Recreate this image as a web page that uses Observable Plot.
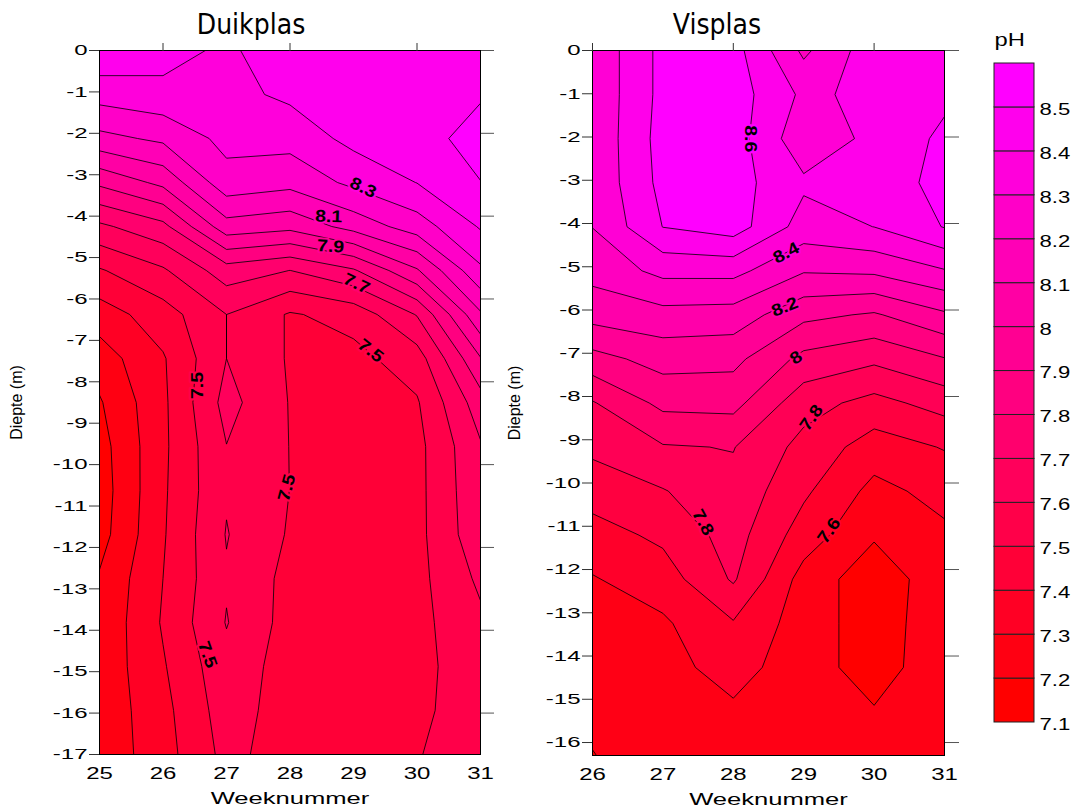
<!DOCTYPE html>
<html>
<head>
<meta charset="utf-8">
<script src="https://cdn.jsdelivr.net/npm/d3@7"></script>
<script src="https://cdn.jsdelivr.net/npm/@observablehq/plot@0.6"></script>
<style>
  body { margin: 0; background: #fff; }
  #page { position: relative; width: 1081px; height: 807px; overflow: hidden; }
  #page svg { position: absolute; top: 0; overflow: visible; }
</style>
</head>
<body>
<div id="page"></div>
<script>
// ---- Duikplas: pH per week (columns) on a regular depth grid (rows, 0 m downwards)
const duikplasWeeks = [25, 26, 27, 28, 29, 30, 31];
const duikplasDepths = [0, -1.0625, -2.125, -3.1875, -4.25, -5.3125, -6.375, -7.4375, -8.5,
  -9.5625, -10.625, -11.6875, -12.75, -13.8125, -14.875, -15.9375, -17];
const duikplasWeek25 = [8.48, 8.34, 8.17, 7.92, 7.68, 7.49, 7.35, 7.25, 7.19, 7.16, 7.15, 7.16, 7.21, 7.22, 7.23, 7.23, 7.23];
const duikplasWeek26 = [8.44, 8.37, 8.22, 8.026, 7.771, 7.586, 7.455, 7.39, 7.38, 7.38, 7.385, 7.39, 7.40, 7.41, 7.39, 7.37, 7.36];
const duikplasWeek27 = [8.38, 8.37, 8.33, 8.263, 8.06, 7.753, 7.6, 7.6, 7.635, 7.598, 7.59, 7.605, 7.59, 7.605, 7.57, 7.55, 7.53];
const duikplasWeek28 = [8.47, 8.42, 8.336, 8.232, 8.029, 7.699, 7.49, 7.49, 7.495, 7.498, 7.499, 7.49, 7.47, 7.46, 7.45, 7.45, 7.45];
const duikplasWeek29 = [8.48, 8.46, 8.43, 8.323, 8.137, 7.788, 7.537, 7.47, 7.46, 7.45, 7.45, 7.45, 7.45, 7.45, 7.45, 7.45, 7.45];
const duikplasWeek30 = [8.48, 8.47, 8.46, 8.402, 8.25, 7.989, 7.706, 7.552, 7.49, 7.47, 7.47, 7.47, 7.47, 7.47, 7.47, 7.48, 7.495];
const duikplasWeek31 = [8.48, 8.49, 8.54, 8.498, 8.41, 8.282, 8.085, 7.894, 7.756, 7.69, 7.68, 7.67, 7.62, 7.58, 7.56, 7.55, 7.55];
const duikplasLevels = [7.1, 7.2, 7.3, 7.4, 7.5, 7.6, 7.7, 7.8, 7.9, 8, 8.1, 8.2, 8.3, 8.4, 8.5];
const duikplasLabels = [
  {week: 29.15, depth: -3.31, level: 8.3, angle: 25},
  {week: 28.61, depth: -4.01, level: 8.1, angle: 2},
  {week: 28.64, depth: -4.73, level: 7.9, angle: 3},
  {week: 29.05, depth: -5.63, level: 7.7, angle: 25},
  {week: 29.27, depth: -7.25, level: 7.5, angle: 38},
  {week: 26.55, depth: -8.09, level: 7.5, angle: -90},
  {week: 27.95, depth: -10.56, level: 7.5, angle: -75},
  {week: 26.70, depth: -14.59, level: 7.5, angle: 70}
];
const duikplasLeftTicks = [0, -1, -2, -3, -4, -5, -6, -7, -8, -9, -10, -11, -12, -13, -14, -15, -16, -17];

// ---- Visplas
const visplasWeeks = [26, 27, 28, 29, 30, 31];
const visplasDepths = [0, -1.019, -2.038, -3.056, -4.075, -5.094, -6.113, -7.131, -8.15,
  -9.169, -10.188, -11.206, -12.225, -13.244, -14.263, -15.281, -16.3];
const visplasWeek26 = [8.42, 8.42, 8.42, 8.42, 8.402, 8.334, 8.237, 8.064, 7.892, 7.822, 7.743, 7.659, 7.593, 7.57, 7.545, 7.52, 7.497];
const visplasWeek27 = [8.63, 8.63, 8.64, 8.63, 8.602, 8.428, 8.266, 8.139, 8.026, 7.892, 7.794, 7.721, 7.651, 7.585, 7.57, 7.56, 7.55];
const visplasWeek28 = [8.64, 8.65, 8.65, 8.64, 8.649, 8.43, 8.258, 8.128, 8.032, 7.904, 7.871, 7.842, 7.812, 7.692, 7.635, 7.585, 7.57];
const visplasWeek29 = [8.38, 8.48, 8.43, 8.518, 8.457, 8.308, 8.126, 7.971, 7.839, 7.768, 7.718, 7.652, 7.56, 7.55, 7.55, 7.55, 7.55];
const visplasWeek30 = [8.56, 8.525, 8.527, 8.53, 8.501, 8.319, 8.088, 7.921, 7.767, 7.653, 7.57, 7.511, 7.44, 7.45, 7.45, 7.508, 7.53];
const visplasWeek31 = [8.56, 8.58, 8.62, 8.64, 8.605, 8.393, 8.184, 7.995, 7.84, 7.706, 7.634, 7.58, 7.56, 7.56, 7.57, 7.58, 7.58];
const visplasLevels = [7.4, 7.5, 7.6, 7.7, 7.8, 7.9, 8, 8.1, 8.2, 8.3, 8.4, 8.5, 8.6];
const visplasLabels = [
  {week: 28.25, depth: -2.04, level: 8.6, angle: 90},
  {week: 28.75, depth: -4.68, level: 8.4, angle: -28},
  {week: 28.73, depth: -5.93, level: 8.2, angle: -22},
  {week: 28.89, depth: -7.10, level: 8, angle: -35},
  {week: 29.11, depth: -8.49, level: 7.8, angle: -55},
  {week: 27.57, depth: -10.91, level: 7.8, angle: 62},
  {week: 29.36, depth: -11.10, level: 7.6, angle: -55}
];
const visplasLeftTicks = [0, -1, -2, -3, -4, -5, -6, -7, -8, -9, -10, -11, -12, -13, -14, -15, -16];

// ---- shared axis ticks and legend
const rightTicks = [0, -2, -4, -6, -8, -10, -12, -14, -16];
const topTicks = [26, 28, 30];
const legendLevels = [7.1, 7.2, 7.3, 7.4, 7.5, 7.6, 7.7, 7.8, 7.9, 8, 8.1, 8.2, 8.3, 8.4, 8.5];

const SANS = "'Liberation Sans', Arial, Helvetica, sans-serif";
const NARROW = "'Liberation Sans Narrow', 'Arial Narrow', 'DejaVu Sans Condensed', sans-serif";
const RAMP = ["#ff0000", "#ff00ff"];

// columns (one array per week) -> row-major flat grid for the contour mark
function flatGrid(columns) {
  const out = [];
  for (let j = 0; j < columns[0].length; ++j) for (const col of columns) out.push(col[j]);
  return out;
}

// widen glyphs horizontally around their anchor
function stretchNode(t, k) {
  const tr = t.getAttribute("transform") || "";
  t.setAttribute("transform", `${tr} scale(${k},1)`);
}
function stretch(svg, selector, k) {
  svg.querySelectorAll(selector).forEach((t) => stretchNode(t, k));
}

function panel(o) {
  const {weeks, depths, columns} = o;
  const dw = weeks[1] - weeks[0];
  const dd = depths[0] - depths[1];
  const svg = Plot.plot({
    width: o.width, height: 807,
    marginTop: 50, marginBottom: o.marginBottom, marginLeft: o.marginLeft, marginRight: o.marginRight,
    x: {domain: [weeks[0], weeks[weeks.length - 1]]},
    y: {domain: [o.bottom, 0]},
    color: {type: "linear", domain: [o.levels[0], o.levels[o.levels.length - 1]], range: RAMP},
    style: {background: "transparent", color: "black", fontFamily: SANS, overflow: "visible"},
    marks: [
      Plot.contour(flatGrid(columns), {
        width: weeks.length, height: depths.length,
        x1: weeks[0] - dw / 2, x2: weeks[weeks.length - 1] + dw / 2,
        y1: depths[0] + dd / 2, y2: depths[depths.length - 1] - dd / 2,
        thresholds: o.levels, fill: Plot.identity,
        stroke: "black", strokeWidth: 0.8, clip: true
      }),
      Plot.text(o.labels, {
        x: "week", y: "depth", rotate: "angle", text: (d) => String(d.level),
        fill: "black", stroke: "level", strokeWidth: 4, paintOrder: "stroke",
        fontSize: 17, fontWeight: "bold", fontFamily: SANS
      }),
      Plot.frame({stroke: "black", strokeWidth: 1}),
      Plot.axisY({ticks: o.leftTicks, tickSize: 10, tickPadding: 2, tickFormat: (d) => String(d),
        fontSize: 15, stroke: "#333", label: null}),
      Plot.axisY({anchor: "right", ticks: rightTicks.filter((d) => d >= o.bottom), tickSize: o.rightTickSize,
        tickFormat: () => "", stroke: "#555", label: null}),
      Plot.axisX({ticks: weeks, tickSize: 0, tickPadding: 13, tickFormat: (d) => String(d),
        fontSize: 16, label: null}),
      Plot.axisX({anchor: "top", ticks: topTicks, tickSize: 8, tickFormat: () => "", stroke: "#333", label: null}),
      Plot.text([o.title], {frameAnchor: "top", dx: o.titleDx, dy: -17, lineAnchor: "bottom",
        fontSize: 28, fontFamily: NARROW}),
      Plot.text(["Weeknummer"], {frameAnchor: "bottom", dy: 49, lineAnchor: "bottom", fontSize: 16}),
      Plot.text(["Diepte (m)"], {frameAnchor: "left", textAnchor: "middle", dx: o.yLabelDx, rotate: -90, fontSize: 16})
    ]
  });
  svg.style.left = `${o.left}px`;
  return svg;
}

const page = document.getElementById("page");

const duik = panel({
  left: 0, width: 500, marginLeft: 99, marginRight: 20, marginBottom: 53, bottom: -17,
  weeks: duikplasWeeks, depths: duikplasDepths,
  columns: [duikplasWeek25, duikplasWeek26, duikplasWeek27, duikplasWeek28, duikplasWeek29, duikplasWeek30, duikplasWeek31],
  levels: duikplasLevels, labels: duikplasLabels, leftTicks: duikplasLeftTicks,
  rightTickSize: 13, title: "Duikplas", titleDx: -39, yLabelDx: -83
});
const vis = panel({
  left: 500, width: 470, marginLeft: 92, marginRight: 26, marginBottom: 52, bottom: -16.3,
  weeks: visplasWeeks, depths: visplasDepths,
  columns: [visplasWeek26, visplasWeek27, visplasWeek28, visplasWeek29, visplasWeek30, visplasWeek31],
  levels: visplasLevels, labels: visplasLabels, leftTicks: visplasLeftTicks,
  rightTickSize: 14, title: "Visplas", titleDx: -51.5, yLabelDx: -78
});

const legend = Plot.plot({
  width: 121, height: 807, marginTop: 63, marginBottom: 85, marginLeft: 34, marginRight: 47,
  x: {domain: [0, 1], axis: null},
  y: {domain: [legendLevels[0], 8.6]},
  color: {type: "linear", domain: [legendLevels[0], legendLevels[legendLevels.length - 1]], range: RAMP},
  style: {background: "transparent", color: "black", fontFamily: SANS, overflow: "visible"},
  marks: [
    Plot.rect(legendLevels, {x1: 0, x2: 1, y1: (d) => d, y2: (d) => d + 0.1, fill: (d) => d,
      stroke: "#222", strokeWidth: 1}),
    Plot.axisY({anchor: "right", ticks: legendLevels, tickSize: 0, tickPadding: 5, dy: 2,
      tickFormat: (d) => String(d), fontSize: 17, label: null}),
    Plot.text(["pH"], {frameAnchor: "top-left", dy: -18, lineAnchor: "bottom", textAnchor: "start", fontSize: 19})
  ]
});
legend.style.left = "960px";

page.append(duik, vis, legend);

for (const svg of [duik, vis]) {
  stretch(svg, 'g[aria-label="y-axis tick label"] text', 1.6);
  stretch(svg, 'g[aria-label="x-axis tick label"] text', 1.5);
  svg.querySelectorAll('g[aria-label="text"] text').forEach((t) => {
    if (t.textContent === "Weeknummer") stretchNode(t, 1.6);
    else if (/^[0-9.]+$/.test(t.textContent)) stretchNode(t, 1.15);
  });
}
stretch(legend, 'g[aria-label="y-axis tick label"] text', 1.3);
stretch(legend, 'g[aria-label="text"] text', 1.25);
</script>
</body>
</html>
